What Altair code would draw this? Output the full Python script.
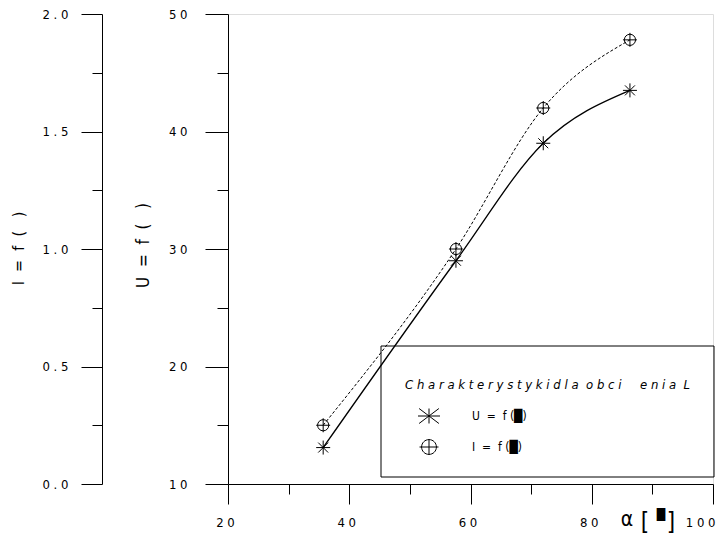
import altair as alt
import pandas as pd

# ---------------- data ----------------
alpha = [35.7, 57.6, 72.0, 86.3]
u_vals = [13.1, 29.0, 39.0, 43.5]
i_vals = [0.25, 1.0, 1.6, 1.89]

x_ticks = [20, 40, 60, 80, 100]
x_tick_labels = ["2 0", "4 0", "6 0", "8 0", "1 0 0"]
x_minor = [30, 50, 70, 90]
u_ticks = [10, 20, 30, 40, 50]
u_tick_labels = ["1 0", "2 0", "3 0", "4 0", "5 0"]
u_minor = [15, 25, 35, 45]
i_ticks = [0.0, 0.5, 1.0, 1.5, 2.0]
i_tick_labels = ["0 . 0", "0 . 5", "1 . 0", "1 . 5", "2 . 0"]
i_minor = [0.25, 0.75, 1.25, 1.75]

NB = "\u00a0"
u_title = f"U{NB*2}={NB*2}f{NB*2}({NB*3})"
i_title = f"I{NB*2}={NB*2}f{NB*2}({NB*3})"
legend_title = ("C h a r a k t e r y s t y k i d l a" + NB * 2 + "o b c i" + NB * 5
                + "e n i a" + NB * 2 + "L")
legend_labels = [f"U{NB*2}={NB*2}f{NB}(\u2588)", f"I{NB*2}={NB*2}f{NB}(\u2588)"]

# ---------------- layout ----------------
FONT = "Liberation Sans Narrow, DejaVu Sans Condensed, Arial Narrow, sans-serif"
LEFT, TOP, RIGHT, BOTTOM = 228, 14, 713, 484   # plot area on the page
W, H = RIGHT - LEFT, BOTTOM - TOP


def px(x):
    return x - LEFT


def py(y):
    return y - TOP


def lab_expr(vals, labs):
    e = "''"
    for v, l in zip(vals, labs):
        e = f"(abs(datum.value - {v}) < 1e-9 ? '{l}' : {e})"
    return e


ASTER = "M-1,0L1,0M0,-1L0,1M-0.71,-0.71L0.71,0.71M-0.71,0.71L0.71,-0.71"
CIRC = "M-0.8,0A0.8,0.8,0,1,0,0.8,0A0.8,0.8,0,1,0,-0.8,0M-1,0L1,0M0,-1L0,1"
ASTER_L = "M-1,0L1,0M0,-0.68L0,0.68M-0.9,-0.68L0.9,0.68M-0.9,0.68L0.9,-0.68"
CIRC_L = "M-0.78,0A0.78,0.78,0,1,0,0.78,0A0.78,0.78,0,1,0,-0.78,0M-1,0L1,0M0,-0.8L0,0.8"

df = pd.DataFrame({"alpha": alpha, "U": u_vals, "I": i_vals})
base = alt.Chart(df)

x_scale = alt.Scale(domain=[20, 100], nice=False, zero=False)
u_scale = alt.Scale(domain=[10, 50], nice=False, zero=False)
i_scale = alt.Scale(domain=[0, 2], nice=False, zero=False)

x_main_axis = alt.Axis(
    orient="bottom", values=x_ticks, labelExpr=lab_expr(x_ticks, x_tick_labels),
    tickSize=20, tickColor="black", domainColor="black", labelColor="black",
    labelFont=FONT, labelFontSize=13, labelPadding=12,
    labelOffset={"condition": {"test": "datum.value >= 100", "value": 2}, "value": -3},
    labelAlign={"condition": {"test": "datum.value >= 100", "value": "right"}, "value": "center"},
    grid=False, title=None, labelFlush=False, labelOverlap=False,
)
x_minor_axis = alt.Axis(
    orient="bottom", values=x_minor, tickSize=10, tickColor="black",
    labels=False, domain=False, grid=False, title=None,
)
u_axis = alt.Axis(
    orient="left", values=u_ticks, labelExpr=lab_expr(u_ticks, u_tick_labels),
    tickSize=23, tickColor="black", domainColor="black", labelColor="black",
    labelFont=FONT, labelFontSize=13, labelPadding=18, grid=False,
    labelOverlap=False, labelFlush=False,
    title=u_title, titleFont=FONT, titleFontSize=17, titleFontWeight="normal",
    titleColor="black", titleAngle=270, titleX=143 - LEFT, titleY=py(245),
    titleAlign="center", titleBaseline="middle",
)
u_minor_axis = alt.Axis(
    orient="left", values=u_minor, tickSize=11, tickColor="black",
    labels=False, domain=False, grid=False, title=None,
)
I_OFF = LEFT - 102
i_axis = alt.Axis(
    orient="left", offset=I_OFF, values=i_ticks, labelExpr=lab_expr(i_ticks, i_tick_labels),
    tickSize=21, tickColor="black", domainColor="black", labelColor="black",
    labelFont=FONT, labelFontSize=13, labelPadding=13, grid=False,
    labelOverlap=False, labelFlush=False,
    title=i_title, titleFont=FONT, titleFontSize=16, titleFontWeight="normal",
    titleColor="black", titleAngle=270, titleX=18 - 102, titleY=py(248),
    titleAlign="center", titleBaseline="middle",
)
i_minor_axis = alt.Axis(
    orient="left", offset=I_OFF, values=i_minor, tickSize=10, tickColor="black",
    labels=False, domain=False, grid=False, title=None,
)

x_main = alt.X("alpha:Q", scale=x_scale, axis=x_main_axis)
x_minor_enc = alt.X("alpha:Q", scale=x_scale, axis=x_minor_axis)
x_none = alt.X("alpha:Q", scale=x_scale, axis=None)

u_line = base.mark_line(interpolate="monotone", color="black", strokeWidth=1.3).encode(
    x=x_main, y=alt.Y("U:Q", scale=u_scale, axis=u_axis))
u_minor_l = base.mark_point(opacity=0).encode(
    x=x_minor_enc, y=alt.Y("U:Q", scale=u_scale, axis=u_minor_axis))
u_pts = base.mark_point(shape=ASTER, size=196, color="black", strokeWidth=1,
                        filled=False, opacity=1).encode(
    x=x_none, y=alt.Y("U:Q", scale=u_scale, axis=None))

i_line = base.mark_line(interpolate="monotone", color="black", strokeWidth=1,
                        strokeDash=[3, 2]).encode(
    x=x_none, y=alt.Y("I:Q", scale=i_scale, axis=i_axis))
i_minor_l = base.mark_point(opacity=0).encode(
    x=x_none, y=alt.Y("I:Q", scale=i_scale, axis=i_minor_axis))
i_pts = base.mark_point(shape=CIRC, size=196, color="black", strokeWidth=1,
                        filled=False, opacity=1).encode(
    x=x_none, y=alt.Y("I:Q", scale=i_scale, axis=None))

deco = alt.Chart(pd.DataFrame({"k": [0]}))

legend_box = deco.mark_rect(fillOpacity=0, stroke="black", strokeWidth=1).encode(
    x=alt.value(px(381)), x2=alt.value(px(714)), y=alt.value(py(346)), y2=alt.value(py(477)))
legend_head = deco.mark_text(align="left", baseline="middle", font=FONT, fontSize=13,
                             fontStyle="italic", color="black").encode(
    x=alt.value(px(405)), y=alt.value(py(385)), text=alt.value(legend_title))
leg_sym_u = deco.mark_point(shape=ASTER_L, size=484, color="black", strokeWidth=1,
                            filled=False, opacity=1).encode(
    x=alt.value(px(429)), y=alt.value(py(416)))
leg_sym_i = deco.mark_point(shape=CIRC_L, size=361, color="black", strokeWidth=1,
                            filled=False, opacity=1).encode(
    x=alt.value(px(429)), y=alt.value(py(447)))
leg_txt_u = deco.mark_text(align="left", baseline="middle", font=FONT, fontSize=12,
                           color="black").encode(
    x=alt.value(px(472)), y=alt.value(py(416)), text=alt.value(legend_labels[0]))
leg_txt_i = deco.mark_text(align="left", baseline="middle", font=FONT, fontSize=12,
                           color="black").encode(
    x=alt.value(px(472)), y=alt.value(py(447)), text=alt.value(legend_labels[1]))

xt_alpha = deco.mark_text(align="center", baseline="middle", font=FONT,
                          fontSize=21, color="black").encode(
    x=alt.value(px(627)), y=alt.value(py(520)), text=alt.value("\u03b1"))
xt_lb = deco.mark_text(align="center", baseline="middle", font=FONT, fontSize=24,
                       fontWeight="normal", color="black").encode(
    x=alt.value(px(645)), y=alt.value(py(523)), text=alt.value("["))
xt_box = deco.mark_text(align="center", baseline="middle", font="DejaVu Sans", fontSize=11,
                        color="black").encode(
    x=alt.value(px(661)), y=alt.value(py(515)), text=alt.value("\u2588"))
xt_rb = deco.mark_text(align="center", baseline="middle", font=FONT, fontSize=24,
                       fontWeight="normal", color="black").encode(
    x=alt.value(px(671)), y=alt.value(py(523)), text=alt.value("]"))

chart = alt.layer(
    u_line, u_minor_l, i_line, i_minor_l, u_pts, i_pts,
    legend_box, legend_head, leg_sym_u, leg_sym_i, leg_txt_u, leg_txt_i,
    xt_alpha, xt_lb, xt_box, xt_rb,
).resolve_scale(y="independent").resolve_axis(x="independent", y="independent").properties(
    width=W, height=H,
    padding={"left": LEFT - 8, "top": TOP - 8, "right": 708 - (LEFT - 8) - W,
             "bottom": 528 - (TOP - 8) - H},
    autosize=alt.AutoSizeParams(type="none"),
).configure_view(stroke=None).configure(background="white")

chart.save("out.html", embed_options={"renderer": "svg", "actions": False})
